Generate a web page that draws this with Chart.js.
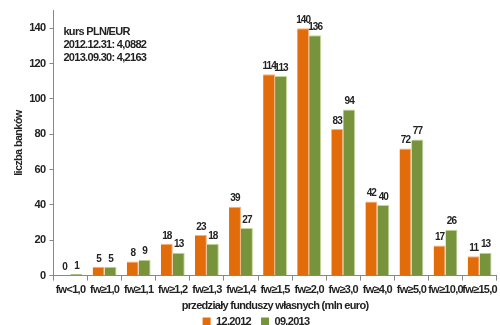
<!DOCTYPE html>
<html>
<head>
<meta charset="utf-8">
<script src="https://cdn.jsdelivr.net/npm/chart.js@4"></script>
<style>
  body { margin: 0; background: #fff; }
  #wrap { width: 500px; height: 325px; }
</style>
</head>
<body>
<div id="wrap"><canvas id="chartFW"></canvas></div>
<script>
var categories = ["fw<1,0", "fw≥1,0", "fw≥1,1", "fw≥1,2", "fw≥1,3", "fw≥1,4", "fw≥1,5", "fw≥2,0", "fw≥3,0", "fw≥4,0", "fw≥5,0", "fw≥10,0", "fw≥15,0"];
var dec2012 = [0, 5, 8, 18, 23, 39, 114, 140, 83, 42, 72, 17, 11];
var sep2013 = [1, 5, 9, 13, 18, 27, 113, 136, 94, 40, 77, 26, 13];
var seriesNames = ["12.2012", "09.2013"];
var noteLines = ["kurs PLN/EUR", "2012.12.31: 4,0882", "2013.09.30: 4,2163"];

var fontFam = "'Liberation Sans', Arial, sans-serif";
Chart.defaults.font.family = fontFam;
Chart.defaults.color = "#222";

// squeeze the letters a bit, the original uses a narrow font
var narrowPlugin = {
    id: "narrow",
    beforeLayout: function (chart) { chart.ctx.letterSpacing = "-0.7px"; },
    beforeDraw: function (chart) { chart.ctx.letterSpacing = "-0.7px"; }
};

// values above bars + rate note
var labelsPlugin = {
    id: "barLabels",
    afterDatasetsDraw: function (chart) {
        var c = chart.ctx;
        c.save();
        c.fillStyle = "#222";
        c.textAlign = "center";
        c.textBaseline = "bottom";
        c.font = "bold 10px " + fontFam;
        c.letterSpacing = "-0.9px";
        chart.data.datasets.forEach(function (ds, i) {
            chart.getDatasetMeta(i).data.forEach(function (bar, j) {
                c.fillText(ds.data[j], bar.x, bar.y - 3);
            });
        });
        c.font = "bold 11px " + fontFam;
        c.letterSpacing = "-0.7px";
        c.textAlign = "left";
        c.textBaseline = "top";
        noteLines.forEach(function (t, k) {
            c.fillText(t, chart.chartArea.left + 10, 26 + k * 13);
        });
        c.restore();
    }
};

var ctx = document.getElementById("chartFW");
var myChart = new Chart(ctx, {
    type: 'bar',
    data: {
        labels: categories,
        datasets: [{
            label: seriesNames[0],
            data: dec2012,
            backgroundColor: "#E36C0A",
            borderColor: "#F2B27E",
            borderWidth: { top: 1, right: 1, left: 0, bottom: 0 },
            categoryPercentage: 0.7,
            barPercentage: 1.0
        }, {
            label: seriesNames[1],
            data: sep2013,
            backgroundColor: "#77933C",
            borderColor: "#C3D69B",
            borderWidth: { top: 1, right: 1, left: 0, bottom: 0 },
            categoryPercentage: 0.7,
            barPercentage: 1.0
        }]
    },
    options: {
        responsive: true,
        maintainAspectRatio: false,
        animation: false,
        layout: { padding: { top: 10, right: 0, left: 12, bottom: -12 } },
        plugins: {
            legend: {
                position: 'bottom',
                labels: {
                    boxWidth: 8,
                    boxHeight: 8,
                    padding: 3,
                    font: { size: 11, weight: 'bold' },
                    generateLabels: function (chart) {
                        var items = Chart.defaults.plugins.legend.labels.generateLabels(chart);
                        items.forEach(function (it, i) {
                            it.lineWidth = 0;
                            if (i < items.length - 1) it.text = it.text + "   ";
                        });
                        return items;
                    }
                }
            },
            tooltip: { enabled: false }
        },
        scales: {
            x: {
                grid: { display: true, drawOnChartArea: false, tickLength: 5, color: "#888", offset: true },
                border: { color: "#888" },
                ticks: { font: { size: 11, weight: 'bold' }, maxRotation: 0, autoSkip: false, padding: 3 },
                title: {
                    display: true,
                    text: "przedziały funduszy własnych (mln euro)",
                    font: { size: 11, weight: 'bold' },
                    padding: { top: 0, bottom: 0 }
                }
            },
            y: {
                min: 0,
                max: 150,
                ticks: { stepSize: 20, font: { size: 11, weight: 'bold' }, padding: 4 },
                afterBuildTicks: function (scale) {
                    scale.ticks = scale.ticks.filter(function (t) { return t.value <= 140; });
                },
                grid: { display: true, drawOnChartArea: false, tickLength: 4, color: "#888" },
                border: { color: "#888" },
                title: {
                    display: true,
                    text: "liczba banków",
                    font: { size: 11, weight: 'bold' },
                    padding: { top: 0, bottom: 0 }
                }
            }
        }
    },
    plugins: [narrowPlugin, labelsPlugin]
});
</script>
</body>
</html>
